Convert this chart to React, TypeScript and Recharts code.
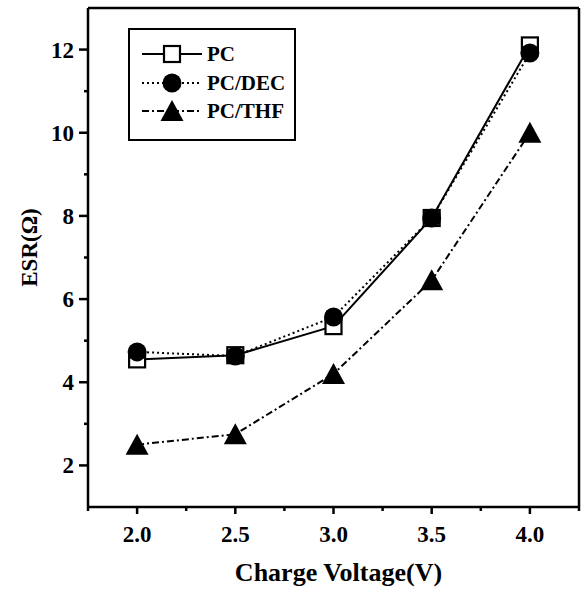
import React from 'react';
import { LineChart, Line, XAxis, YAxis, ReferenceLine } from 'recharts';

const voltages = [2.0, 2.5, 3.0, 3.5, 4.0];
const esrPC = [4.55, 4.65, 5.35, 7.95, 12.1];
const esrPCDEC = [4.73, 4.63, 5.57, 7.95, 11.92];
const esrPCTHF = [2.5, 2.75, 4.2, 6.45, 10.0];

const xTicks = [1.75, 2.0, 2.25, 2.5, 2.75, 3.0, 3.25, 3.5, 3.75, 4.0, 4.25];
const xMajor = [2.0, 2.5, 3.0, 3.5, 4.0];
const yTicks = [2, 3, 4, 5, 6, 7, 8, 9, 10, 11, 12];
const yMajor = [2, 4, 6, 8, 10, 12];

const seriesNames = ['PC', 'PC/DEC', 'PC/THF'];

const data = voltages.map((v, i) => ({
  v,
  pc: esrPC[i],
  dec: esrPCDEC[i],
  thf: esrPCTHF[i],
}));

const FONT = "'Liberation Serif', 'Times New Roman', Times, serif";
const txt: React.CSSProperties = { fontFamily: FONT, fontWeight: 700 };

type Shape = 'square' | 'circle' | 'triangle';

const Marker = ({ cx, cy, shape }: { cx: number; cy: number; shape: Shape }) => {
  if (shape === 'square') {
    return <rect x={cx - 8} y={cy - 8} width={16} height={16} fill="#fff" stroke="#000" strokeWidth={2.2} />;
  }
  if (shape === 'circle') {
    return <circle cx={cx} cy={cy} r={9.5} fill="#000" />;
  }
  return <polygon points={`${cx},${cy - 11} ${cx + 11.5},${cy + 10} ${cx - 11.5},${cy + 10}`} fill="#000" />;
};

const makeDot = (shape: Shape) => (props: any) => {
  const { cx, cy, index } = props;
  if (cx == null || cy == null) return <g key={index} />;
  return <Marker key={index} cx={cx} cy={cy} shape={shape} />;
};

const XTick = (props: any) => {
  const { x, y, payload } = props;
  const val = payload.value as number;
  const major = xMajor.some((m) => Math.abs(m - val) < 1e-6);
  return (
    <g>
      <line x1={x} y1={y} x2={x} y2={y + (major ? 7 : 4)} stroke="#000" strokeWidth={2.5} />
      {major && (
        <text x={x} y={y + 35} textAnchor="middle" style={{ ...txt, fontSize: 23 }} fill="#000">
          {val.toFixed(1)}
        </text>
      )}
    </g>
  );
};

const YTick = (props: any) => {
  const { x, y, payload } = props;
  const val = payload.value as number;
  const major = yMajor.includes(val);
  return (
    <g>
      <line x1={x} y1={y} x2={x - (major ? 9 : 4)} y2={y} stroke="#000" strokeWidth={2.5} />
      {major && (
        <text x={x - 14} y={y + 8} textAnchor="end" style={{ ...txt, fontSize: 23 }} fill="#000">
          {val}
        </text>
      )}
    </g>
  );
};

const LegendBox = () => {
  const shapes: Shape[] = ['square', 'circle', 'triangle'];
  const dashes = [undefined, '2 3', '7 3 2 3'];
  const rows = [26, 55, 83];
  return (
    <div
      style={{
        position: 'absolute',
        left: 128,
        top: 28,
        width: 168,
        height: 113,
        border: '2.5px solid #000',
        boxSizing: 'border-box',
        background: '#fff',
      }}
    >
      <svg width={168} height={113} style={{ position: 'absolute', left: -2.5, top: -2.5 }}>
        {seriesNames.map((n, i) => (
          <g key={n}>
            <line x1={14} x2={74} y1={rows[i]} y2={rows[i]} stroke="#000" strokeWidth={2} strokeDasharray={dashes[i]} />
            <Marker cx={44} cy={rows[i]} shape={shapes[i]} />
            <text x={79} y={rows[i] + 7} style={{ ...txt, fontSize: 21 }} fill="#000">
              {n}
            </text>
          </g>
        ))}
      </svg>
    </div>
  );
};

export default function App() {
  return (
    <div style={{ position: 'absolute', left: 0, top: 0, width: 583, height: 590, background: '#fff' }}>
      <LineChart width={583} height={590} data={data} margin={{ top: 8, right: 4, left: 0, bottom: 0 }}>
        <XAxis
          dataKey="v"
          type="number"
          domain={[1.75, 4.25]}
          ticks={xTicks}
          interval={0}
          height={83}
          tickSize={0}
          tickMargin={0}
          tickLine={false}
          tick={<XTick />}
          axisLine={{ stroke: '#000', strokeWidth: 2.5 }}
          allowDataOverflow
          label={{
            content: (p: any) => {
              const vb = p.viewBox;
              return (
                <text x={vb.x + vb.width / 2 + 5} y={vb.y + 74} textAnchor="middle" style={{ ...txt, fontSize: 26 }} fill="#000">
                  Charge Voltage(V)
                </text>
              );
            },
          }}
        />
        <YAxis
          type="number"
          domain={[1, 13]}
          ticks={yTicks}
          interval={0}
          width={88}
          tickSize={0}
          tickMargin={0}
          tickLine={false}
          tick={<YTick />}
          axisLine={{ stroke: '#000', strokeWidth: 2.5 }}
          allowDataOverflow
          label={{
            content: (p: any) => {
              const vb = p.viewBox;
              const cx = vb.x + 29;
              const cy = vb.y + vb.height / 2 - 10;
              return (
                <text x={cx} y={cy} transform={`rotate(-90 ${cx} ${cy})`} textAnchor="middle" dominantBaseline="central" style={{ ...txt, fontSize: 23 }} fill="#000">
                  ESR(Ω)
                </text>
              );
            },
          }}
        />
        <ReferenceLine y={13} stroke="#000" strokeWidth={2.5} />
        <ReferenceLine x={4.25} stroke="#000" strokeWidth={2.5} />
        <Line type="linear" dataKey="pc" stroke="#000" strokeWidth={2} dot={makeDot('square')} isAnimationActive={false} />
        <Line type="linear" dataKey="dec" stroke="#000" strokeWidth={2} strokeDasharray="2 3" dot={makeDot('circle')} isAnimationActive={false} />
        <Line type="linear" dataKey="thf" stroke="#000" strokeWidth={2} strokeDasharray="7 3 2 3" dot={makeDot('triangle')} isAnimationActive={false} />
      </LineChart>
      <LegendBox />
    </div>
  );
}
